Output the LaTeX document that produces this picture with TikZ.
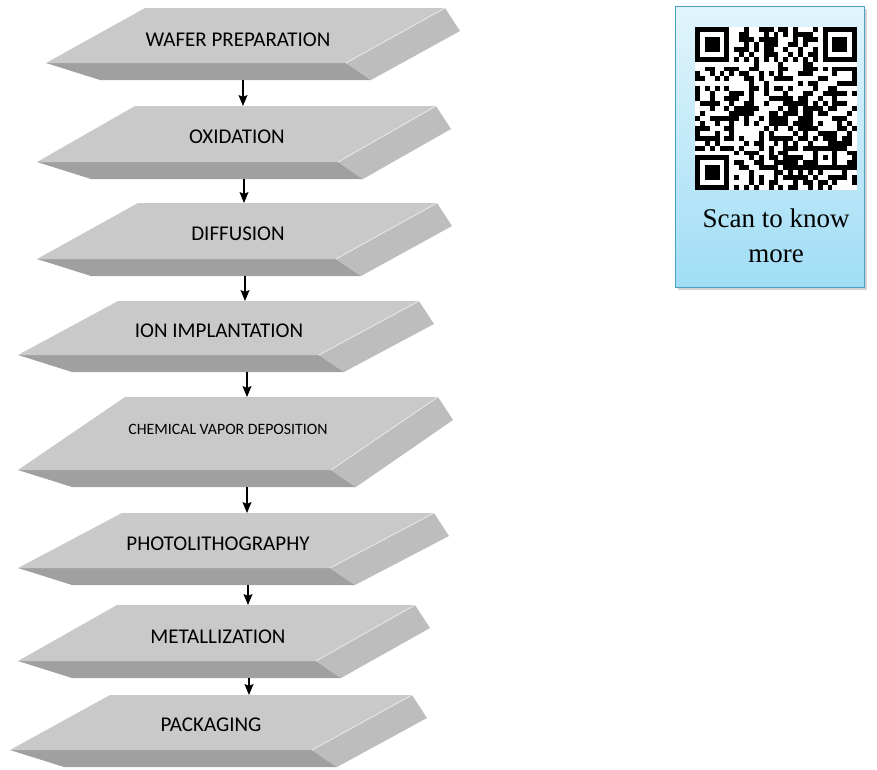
\documentclass[tikz,border=0pt]{standalone}
\usepackage{fontspec}
\setmainfont{Carlito}
\newfontfamily\cardfont{Liberation Serif}
\usetikzlibrary{arrows.meta,shadows}
\definecolor{slabtop}{RGB}{201,201,201}
\definecolor{slabfront}{RGB}{160,160,160}
\definecolor{slabside}{RGB}{189,189,189}
\definecolor{cardtop}{RGB}{226,245,252}
\definecolor{cardbot}{RGB}{160,221,245}
\definecolor{cardline}{RGB}{75,160,196}
\tikzset{topface/.style={fill=slabtop},frontface/.style={fill=slabfront},sideface/.style={fill=slabside},
 rim/.style={draw=white!60!slabtop,line width=0.8pt},
 lbl/.style={font=\fontsize{21}{24}\selectfont,text=black,inner sep=0pt},
 small/.style={font=\fontsize{15.8}{18}\selectfont},
 flow/.style={-{Stealth[length=11pt,width=9pt,inset=2pt]},line width=1.3pt},
 card/.style={draw=cardline,line width=1pt,top color=cardtop,bottom color=cardbot,inner sep=0pt,
  minimum width=189pt,minimum height=281pt,drop shadow={shadow xshift=3pt,shadow yshift=-3pt,opacity=0.35}},
 cardtxt/.style={font=\cardfont\fontsize{27}{35}\selectfont,align=center,inner sep=0pt}}
% one bevelled slab: name, x top-left, x tip, y top, y tip, width, x of the arrow spot
\newcommand{\slab}[7]{%
 \fill[frontface] (#3,#5) -- (#3+#6,#5) -- (#3+#6+25,#5+17) -- (#3+54,#5+17) -- cycle;
 \fill[sideface] (#3+#6,#5) -- (#2+#6,#4) -- (#2+#6+15,#4+23) -- (#3+#6+25,#5+17) -- cycle;
 \fill[topface] (#2,#4) -- (#2+#6,#4) -- (#3+#6,#5) -- (#3,#5) -- cycle;
 \draw[rim] (#3+#6,#5) -- (#2+#6,#4);
 \coordinate (#1-t) at (#7,#4);\coordinate (#1-b) at (#7,#5+17);}

\begin{document}
\begin{tikzpicture}[x=1pt,y=-1pt]
\useasboundingbox (0,0) rectangle (877,769);
% process slabs
\slab{wp}{145}{46}{8}{63}{300}{243}
\slab{ox}{135}{37}{106}{162}{301}{244}
\slab{df}{138}{37}{203}{259}{299}{245}
\slab{ii}{118}{18}{301}{355}{301}{247}
\slab{cvd}{125}{18}{397}{470}{313}{247}
\slab{ph}{122}{18}{513}{568}{312}{248}
\slab{mt}{117}{18}{605}{661}{298}{249}
\slab{pk}{110}{10}{695}{750}{302}{249}
\node[lbl](wp) at (238,40){WAFER PREPARATION};
\node[lbl](ox) at (237,137){OXIDATION};
\node[lbl](df) at (238,234){DIFFUSION};
\node[lbl](ii) at (219,331){ION IMPLANTATION};
\node[lbl,small](cvd) at (228,429){CHEMICAL VAPOR DEPOSITION};
\node[lbl](ph) at (218,544){PHOTOLITHOGRAPHY};
\node[lbl](mt) at (218,637){METALLIZATION};
\node[lbl](pk) at (211,725){PACKAGING};
\draw[flow](wp-b)--(wp-b |- ox-t);
\draw[flow](ox-b)--(ox-b |- df-t);
\draw[flow](df-b)--(df-b |- ii-t);
\draw[flow](ii-b)--(ii-b |- cvd-t);
\draw[flow](cvd-b)--(cvd-b |- ph-t);
\draw[flow](ph-b)--(ph-b |- mt-t);
\draw[flow](mt-b)--(mt-b |- pk-t);
% scan card
\node[card](scancard) at (769.5,146.5){};
\node[cardtxt](scan) at (776,236){Scan to know\\more};
\begin{scope}[shift={(695,27)},x=4.91pt,y=-4.94pt]
\fill[white] (0,0) rectangle (33,33);
\pgfmathsetseed{2718}
\foreach \i in {0,...,32}{\foreach \j in {0,...,32}{%
 \pgfmathtruncatemacro\bit{rnd>0.5}%
 \ifnum\bit=1 \fill (\i,\j) rectangle ++(1,1);\fi}}
\foreach \ci/\cj/\wi/\wj in {0/0/0/0,26/0/25/0,0/26/0/25}{%
 \fill[white] (\wi,\wj) rectangle ++(8,8);
 \fill (\ci,\cj) rectangle ++(7,7);
 \fill[white] (\ci+1,\cj+1) rectangle ++(5,5);
 \fill (\ci+2,\cj+2) rectangle ++(3,3);}
\foreach \k in {8,...,24}{%
 \pgfmathtruncatemacro\odd{mod(\k,2)}%
 \ifnum\odd=0 \fill (\k,6) rectangle ++(1,1);\fill (6,\k) rectangle ++(1,1);
 \else \fill[white] (\k,6) rectangle ++(1,1);\fill[white] (6,\k) rectangle ++(1,1);\fi}
\fill (24,24) rectangle ++(5,5);\fill[white] (25,25) rectangle ++(3,3);\fill (26,26) rectangle ++(1,1);
\end{scope}
\end{tikzpicture}
\end{document}
